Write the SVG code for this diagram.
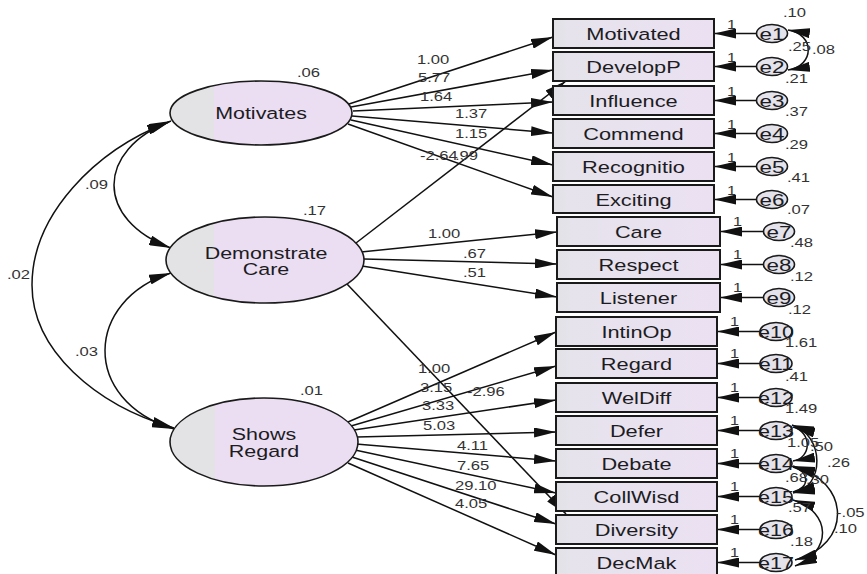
<svg xmlns="http://www.w3.org/2000/svg" width="867" height="574" viewBox="0 0 867 574">
<defs>
<linearGradient id="latg" x1="0" y1="0" x2="1" y2="0">
<stop offset="0" stop-color="#e3e3e6"/><stop offset="0.24" stop-color="#e3e3e6"/><stop offset="0.24" stop-color="#ebdef2"/><stop offset="1" stop-color="#ebdef2"/>
</linearGradient>
<linearGradient id="boxg" x1="0" y1="0" x2="1" y2="0">
<stop offset="0" stop-color="#e2e2e6"/><stop offset="0.1" stop-color="#e6e3ec"/><stop offset="1" stop-color="#ebe0f2"/>
</linearGradient>
<marker id="ah" markerUnits="userSpaceOnUse" markerWidth="22" markerHeight="10" refX="22" refY="5" orient="auto-start-reverse" viewBox="0 0 22 10">
<path d="M0,0 L22,5 L0,10 z" fill="#111"/>
</marker>
<style>
text { font-family: "Liberation Sans", Arial, sans-serif; fill: #1c1c22; }
.lat { fill: url(#latg); stroke: #1a1a1a; stroke-width: 1.6; }
.box { fill: url(#boxg); stroke: #1a1a1a; stroke-width: 2; }
.err { fill: #e4e2ea; stroke: #1a1a1a; stroke-width: 1.6; }
.p { fill: none; stroke: #111; stroke-width: 1.5; marker-end: url(#ah); }
.c { fill: none; stroke: #111; stroke-width: 1.5; marker-start: url(#ah); marker-end: url(#ah); }
.lbl { font-size: 16.5px; text-anchor: middle; }
.el { font-size: 16px; text-anchor: middle; }
.num { font-size: 12.5px; fill: #333; }
</style>
</defs>
<rect width="867" height="574" fill="#ffffff"/>

<g id="connectors">
<path class="p" d="M349,104 L553,37"/>
<path class="p" d="M351,107 L553,70"/>
<path class="p" d="M353,111 L553,102"/>
<path class="p" d="M352,116 L553,133"/>
<path class="p" d="M351,120 L553,165"/>
<path class="p" d="M348,124 L553,197"/>
<path class="p" d="M356,243 L566,81"/>
<path class="p" d="M361,252 L557,232"/>
<path class="p" d="M364,259 L557,264"/>
<path class="p" d="M362,266 L557,297"/>
<path class="p" d="M347,284 L566,514"/>
<path class="p" d="M348,422 L556,332"/>
<path class="p" d="M351,426 L556,366"/>
<path class="p" d="M354,430 L556,400"/>
<path class="p" d="M357,437 L556,432"/>
<path class="p" d="M356,444 L556,461"/>
<path class="p" d="M355,450 L556,493"/>
<path class="p" d="M352,457 L556,524"/>
<path class="p" d="M348,463 L556,555"/>
<path class="c" d="M171,121 C95,150 95,220 171,248"/>
<path class="c" d="M169,122 C95,150 32,215 32,285 C32,350 95,405 174,428"/>
<path class="c" d="M171,273 C85,300 80,400 174,429"/>
<path class="p" d="M756.5,33.5 L714,33.5"/>
<path class="p" d="M756.5,66.5 L714,66.5"/>
<path class="p" d="M756.5,100.5 L714,100.5"/>
<path class="p" d="M756.5,133.5 L714,133.5"/>
<path class="p" d="M756.5,166.5 L714,166.5"/>
<path class="p" d="M756.5,199.5 L714,199.5"/>
<path class="p" d="M763.5,231.5 L720,231.5"/>
<path class="p" d="M763.5,264.5 L720,264.5"/>
<path class="p" d="M763.5,297.5 L720,297.5"/>
<path class="p" d="M760,331.5 L717,331.5"/>
<path class="p" d="M760,363.5 L717,363.5"/>
<path class="p" d="M760,397.5 L717,397.5"/>
<path class="p" d="M760,430.5 L717,430.5"/>
<path class="p" d="M760,463.5 L717,463.5"/>
<path class="p" d="M760,496.5 L717,496.5"/>
<path class="p" d="M760,529.5 L717,529.5"/>
<path class="p" d="M760,562.5 L717,562.5"/>
<path class="c" d="M788,30 C815,34 815,66 788,70"/>
<path class="c" d="M793,427 C812,432 812,458 793,461"/>
<path class="c" d="M792,425 C825,435 825,488 793,493"/>
<path class="c" d="M793,467 C810,472 810,488 793,492"/>
<path class="c" d="M793,466 C852,482 852,545 795,560"/>
<path class="c" d="M793,500 C832,512 832,552 795,566"/>
<text class="num" transform="matrix(1.33 0 0 1 417 64)">1.00</text>
<text class="num" transform="matrix(1.33 0 0 1 418 82)">5.77</text>
<text class="num" transform="matrix(1.33 0 0 1 420 101)">1.64</text>
<text class="num" transform="matrix(1.33 0 0 1 455 118)">1.37</text>
<text class="num" transform="matrix(1.33 0 0 1 455 138)">1.15</text>
<text class="num" transform="matrix(1.33 0 0 1 420 160)">-2.64</text>
<text class="num" transform="matrix(1.33 0 0 1 455 160)">.99</text>
<text class="num" transform="matrix(1.33 0 0 1 428 238)">1.00</text>
<text class="num" transform="matrix(1.33 0 0 1 463 258)">.67</text>
<text class="num" transform="matrix(1.33 0 0 1 463 277)">.51</text>
<text class="num" transform="matrix(1.33 0 0 1 418 373)">1.00</text>
<text class="num" transform="matrix(1.33 0 0 1 420 392)">3.15</text>
<text class="num" transform="matrix(1.33 0 0 1 467 396)">-2.96</text>
<text class="num" transform="matrix(1.33 0 0 1 422 410)">3.33</text>
<text class="num" transform="matrix(1.33 0 0 1 423 430)">5.03</text>
<text class="num" transform="matrix(1.33 0 0 1 457 450)">4.11</text>
<text class="num" transform="matrix(1.33 0 0 1 457 470)">7.65</text>
<text class="num" transform="matrix(1.33 0 0 1 455 490)">29.10</text>
<text class="num" transform="matrix(1.33 0 0 1 455 508)">4.05</text>
<text class="num" transform="matrix(1.33 0 0 1 85 189)">.09</text>
<text class="num" transform="matrix(1.33 0 0 1 7 279)">.02</text>
<text class="num" transform="matrix(1.33 0 0 1 75 356)">.03</text>
<text class="num" transform="matrix(1.3 0 0 1 727 28.5)">1</text>
<text class="num" transform="matrix(1.3 0 0 1 727 61.5)">1</text>
<text class="num" transform="matrix(1.3 0 0 1 727 95.5)">1</text>
<text class="num" transform="matrix(1.3 0 0 1 727 128.5)">1</text>
<text class="num" transform="matrix(1.3 0 0 1 727 161.5)">1</text>
<text class="num" transform="matrix(1.3 0 0 1 727 194.5)">1</text>
<text class="num" transform="matrix(1.3 0 0 1 733 225.5)">1</text>
<text class="num" transform="matrix(1.3 0 0 1 733 258.5)">1</text>
<text class="num" transform="matrix(1.3 0 0 1 733 291.5)">1</text>
<text class="num" transform="matrix(1.3 0 0 1 730 325.5)">1</text>
<text class="num" transform="matrix(1.3 0 0 1 730 357.5)">1</text>
<text class="num" transform="matrix(1.3 0 0 1 730 391.5)">1</text>
<text class="num" transform="matrix(1.3 0 0 1 730 424.5)">1</text>
<text class="num" transform="matrix(1.3 0 0 1 730 457.5)">1</text>
<text class="num" transform="matrix(1.3 0 0 1 730 490.5)">1</text>
<text class="num" transform="matrix(1.3 0 0 1 730 523.5)">1</text>
<text class="num" transform="matrix(1.3 0 0 1 730 556.5)">1</text>
<text class="num" transform="matrix(1.33 0 0 1 812 54)">.08</text>
<text class="num" transform="matrix(1.33 0 0 1 810 451)">.50</text>
<text class="num" transform="matrix(1.33 0 0 1 827 467)">.26</text>
<text class="num" transform="matrix(1.33 0 0 1 806 484)">.30</text>
<text class="num" transform="matrix(1.33 0 0 1 836 517)">-.05</text>
<text class="num" transform="matrix(1.33 0 0 1 834 533)">.10</text>
</g>

<g id="motivates">
<ellipse class="lat" cx="261" cy="113" rx="91" ry="32"/>
<text class="lbl" transform="matrix(1.3 0 0 1 261 119)">Motivates</text>
<text class="num" transform="matrix(1.33 0 0 1 297 77)">.06</text>
</g>
<g id="demonstrate-care">
<ellipse class="lat" cx="265" cy="260" rx="99" ry="43"/>
<text class="lbl" transform="matrix(1.3 0 0 1 266 259)">Demonstrate</text>
<text class="lbl" transform="matrix(1.3 0 0 1 266 275)">Care</text>
<text class="num" transform="matrix(1.33 0 0 1 303 215)">.17</text>
</g>
<g id="shows-regard">
<ellipse class="lat" cx="264" cy="442" rx="94" ry="44"/>
<text class="lbl" transform="matrix(1.3 0 0 1 264 440)">Shows</text>
<text class="lbl" transform="matrix(1.3 0 0 1 264 456.5)">Regard</text>
<text class="num" transform="matrix(1.33 0 0 1 300 395)">.01</text>
</g>

<g id="motivated"><rect class="box" x="553" y="19" width="161" height="29"/><text class="lbl" transform="matrix(1.32 0 0 1 633.5 39.5)">Motivated</text></g>
<g id="developp"><rect class="box" x="553" y="52" width="161" height="29"/><text class="lbl" transform="matrix(1.32 0 0 1 633.5 72.5)">DevelopP</text></g>
<g id="influence"><rect class="box" x="553" y="86" width="161" height="29"/><text class="lbl" transform="matrix(1.32 0 0 1 633.5 106.5)">Influence</text></g>
<g id="commend"><rect class="box" x="553" y="119" width="161" height="29"/><text class="lbl" transform="matrix(1.32 0 0 1 633.5 139.5)">Commend</text></g>
<g id="recognitio"><rect class="box" x="553" y="152" width="161" height="29"/><text class="lbl" transform="matrix(1.32 0 0 1 633.5 172.5)">Recognitio</text></g>
<g id="exciting"><rect class="box" x="553" y="185" width="161" height="28"/><text class="lbl" transform="matrix(1.32 0 0 1 633.5 205.5)">Exciting</text></g>
<g id="care"><rect class="box" x="557" y="217" width="163" height="29"/><text class="lbl" transform="matrix(1.32 0 0 1 638.5 237.5)">Care</text></g>
<g id="respect"><rect class="box" x="557" y="250" width="163" height="29"/><text class="lbl" transform="matrix(1.32 0 0 1 638.5 270.5)">Respect</text></g>
<g id="listener"><rect class="box" x="557" y="283" width="163" height="29"/><text class="lbl" transform="matrix(1.32 0 0 1 638.5 303.5)">Listener</text></g>
<g id="intinop"><rect class="box" x="556" y="317" width="161" height="29"/><text class="lbl" transform="matrix(1.32 0 0 1 636.5 337.5)">IntinOp</text></g>
<g id="regard"><rect class="box" x="556" y="349" width="161" height="29"/><text class="lbl" transform="matrix(1.32 0 0 1 636.5 369.5)">Regard</text></g>
<g id="weldiff"><rect class="box" x="556" y="383" width="161" height="29"/><text class="lbl" transform="matrix(1.32 0 0 1 636.5 403.5)">WelDiff</text></g>
<g id="defer"><rect class="box" x="556" y="416" width="161" height="29"/><text class="lbl" transform="matrix(1.32 0 0 1 636.5 436.5)">Defer</text></g>
<g id="debate"><rect class="box" x="556" y="449" width="161" height="29"/><text class="lbl" transform="matrix(1.32 0 0 1 636.5 469.5)">Debate</text></g>
<g id="collwisd"><rect class="box" x="556" y="482" width="161" height="29"/><text class="lbl" transform="matrix(1.32 0 0 1 636.5 502.5)">CollWisd</text></g>
<g id="diversity"><rect class="box" x="556" y="515" width="161" height="29"/><text class="lbl" transform="matrix(1.32 0 0 1 636.5 535.5)">Diversity</text></g>
<g id="decmak"><rect class="box" x="556" y="548" width="161" height="29"/><text class="lbl" transform="matrix(1.32 0 0 1 636.5 568.5)">DecMak</text></g>

<g id="e1"><ellipse class="err" cx="772" cy="33.5" rx="15.5" ry="9"/><text class="el" transform="matrix(1.4 0 0 1 772 39.5)">e1</text><text class="num" transform="matrix(1.33 0 0 1 783 17)">.10</text><text class="num" transform="matrix(1.33 0 0 1 788 51)">.25</text></g>
<g id="e2"><ellipse class="err" cx="772" cy="66.5" rx="15.5" ry="9"/><text class="el" transform="matrix(1.4 0 0 1 772 72.5)">e2</text><text class="num" transform="matrix(1.33 0 0 1 785 83)">.21</text></g>
<g id="e3"><ellipse class="err" cx="772" cy="100.5" rx="15.5" ry="9"/><text class="el" transform="matrix(1.4 0 0 1 772 106.5)">e3</text><text class="num" transform="matrix(1.33 0 0 1 785 116)">.37</text></g>
<g id="e4"><ellipse class="err" cx="772" cy="133.5" rx="15.5" ry="9"/><text class="el" transform="matrix(1.4 0 0 1 772 139.5)">e4</text><text class="num" transform="matrix(1.33 0 0 1 785 149)">.29</text></g>
<g id="e5"><ellipse class="err" cx="772" cy="166.5" rx="15.5" ry="9"/><text class="el" transform="matrix(1.4 0 0 1 772 172.5)">e5</text><text class="num" transform="matrix(1.33 0 0 1 787 182)">.41</text></g>
<g id="e6"><ellipse class="err" cx="772" cy="199.5" rx="15.5" ry="9"/><text class="el" transform="matrix(1.4 0 0 1 772 205.5)">e6</text><text class="num" transform="matrix(1.33 0 0 1 787 214)">.07</text></g>
<g id="e7"><ellipse class="err" cx="779" cy="231.5" rx="15.5" ry="9"/><text class="el" transform="matrix(1.4 0 0 1 779 237.5)">e7</text><text class="num" transform="matrix(1.33 0 0 1 790 247)">.48</text></g>
<g id="e8"><ellipse class="err" cx="779" cy="264.5" rx="15.5" ry="9"/><text class="el" transform="matrix(1.4 0 0 1 779 270.5)">e8</text><text class="num" transform="matrix(1.33 0 0 1 790 281)">.12</text></g>
<g id="e9"><ellipse class="err" cx="779" cy="297.5" rx="15.5" ry="9"/><text class="el" transform="matrix(1.4 0 0 1 779 303.5)">e9</text><text class="num" transform="matrix(1.33 0 0 1 788 314)">.12</text></g>
<g id="e10"><ellipse class="err" cx="776" cy="331.5" rx="16" ry="9"/><text class="el" transform="matrix(1.35 0 0 1 776 337.5)">e10</text><text class="num" transform="matrix(1.33 0 0 1 785 347)">1.61</text></g>
<g id="e11"><ellipse class="err" cx="776" cy="363.5" rx="16" ry="9"/><text class="el" transform="matrix(1.35 0 0 1 776 369.5)">e11</text><text class="num" transform="matrix(1.33 0 0 1 785 381)">.41</text></g>
<g id="e12"><ellipse class="err" cx="776" cy="397.5" rx="16" ry="9"/><text class="el" transform="matrix(1.35 0 0 1 776 403.5)">e12</text><text class="num" transform="matrix(1.33 0 0 1 785 413)">1.49</text></g>
<g id="e13"><ellipse class="err" cx="776" cy="430.5" rx="16" ry="9"/><text class="el" transform="matrix(1.35 0 0 1 776 436.5)">e13</text><text class="num" transform="matrix(1.33 0 0 1 787 447)">1.05</text></g>
<g id="e14"><ellipse class="err" cx="776" cy="463.5" rx="16" ry="9"/><text class="el" transform="matrix(1.35 0 0 1 776 469.5)">e14</text><text class="num" transform="matrix(1.33 0 0 1 785 482)">.68</text></g>
<g id="e15"><ellipse class="err" cx="776" cy="496.5" rx="16" ry="9"/><text class="el" transform="matrix(1.35 0 0 1 776 502.5)">e15</text><text class="num" transform="matrix(1.33 0 0 1 788 512)">.57</text></g>
<g id="e16"><ellipse class="err" cx="776" cy="529.5" rx="16" ry="9"/><text class="el" transform="matrix(1.35 0 0 1 776 535.5)">e16</text><text class="num" transform="matrix(1.33 0 0 1 790 546)">.18</text></g>
<g id="e17"><ellipse class="err" cx="776" cy="562.5" rx="16" ry="9"/><text class="el" transform="matrix(1.35 0 0 1 776 568.5)">e17</text></g>
</svg>
